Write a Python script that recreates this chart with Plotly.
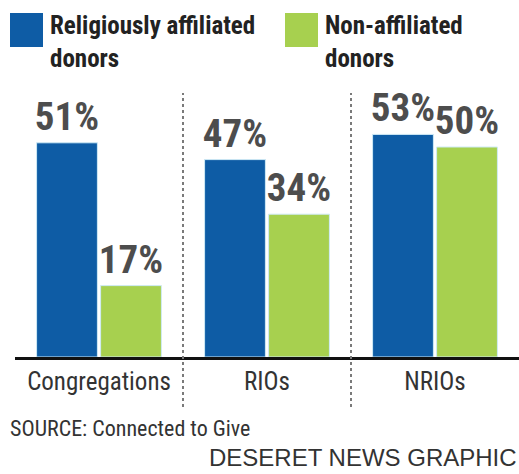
import plotly.graph_objects as go

categories = ["Congregations", "RIOs", "NRIOs"]
series_names = ["Religiously affiliated<br>donors", "Non-affiliated<br>donors"]
religious = [51, 47, 53]
non_affiliated = [17, 34, 50]
source_text = "SOURCE: Connected to Give"
credit_text = "DESERET NEWS GRAPHIC"

BLUE = "#0e5ca5"
GREEN = "#a7d04f"
NARROW = "Roboto Condensed, DejaVu Sans Condensed, sans-serif"

W, H = 519, 474
ML, MR, MT, MB = 15, 0, 90, 117
PW, PH = W - ML - MR, H - MT - MB

def px(x):
    return (x - ML) / PW

def py(y):
    return (H - MB - y) / PH

fig = go.Figure()
for name, vals, col in [(series_names[0], religious, BLUE), (series_names[1], non_affiliated, GREEN)]:
    fig.add_trace(go.Bar(
        x=categories, y=vals, name=name.replace("<br>", " "),
        marker=dict(color=col, line=dict(color="#cfeaf6", width=1)),
        texttemplate="%{y}%", textposition="outside",
        textfont=dict(family=NARROW, size=39, color="#4d4d4d", weight="bold"),
        constraintext="none", cliponaxis=False,
    ))

shapes = []
for xv in [0.5, 1.5]:
    shapes.append(dict(type="line", xref="x", yref="paper", x0=xv, x1=xv,
                       y0=py(407), y1=py(93), line=dict(color="#7a7a7a", width=2, dash="dot")))
shapes.append(dict(type="rect", xref="paper", yref="paper", x0=px(10), x1=px(43),
                   y0=py(47), y1=py(13), fillcolor=BLUE, line=dict(width=0)))
shapes.append(dict(type="rect", xref="paper", yref="paper", x0=px(285), x1=px(318),
                   y0=py(47), y1=py(13), fillcolor=GREEN, line=dict(width=0)))

annotations = [
    dict(text=series_names[0], xref="paper", yref="paper", x=px(48), y=py(9),
         xanchor="left", yanchor="top", align="left", showarrow=False,
         font=dict(family=NARROW, size=25, color="#222", weight="bold")),
    dict(text=series_names[1], xref="paper", yref="paper", x=px(323), y=py(9),
         xanchor="left", yanchor="top", align="left", showarrow=False,
         font=dict(family=NARROW, size=25, color="#222", weight="bold")),
    dict(text=source_text, xref="paper", yref="paper", x=px(8), y=py(414),
         xanchor="left", yanchor="top", showarrow=False,
         font=dict(family=NARROW, size=22, color="#333")),
    dict(text=credit_text, xref="paper", yref="paper", x=1.0, y=py(473),
         xanchor="right", yanchor="bottom", showarrow=False,
         font=dict(family="Liberation Sans, Arial, sans-serif", size=24, color="#333")),
]

fig.update_layout(
    width=W, height=H,
    margin=dict(l=ML, r=MR, t=MT, b=MB, pad=0),
    paper_bgcolor="white", plot_bgcolor="white",
    barmode="group", bargap=0.238, bargroupgap=0.05,
    showlegend=False,
    shapes=shapes, annotations=annotations,
    xaxis=dict(showline=True, linecolor="#111", linewidth=3, ticks="",
               tickfont=dict(family=NARROW, size=25, color="#333"),
               showgrid=False, fixedrange=True),
    yaxis=dict(range=[0, PH / 4.2], visible=False, showgrid=False, fixedrange=True),
)

fig.write_html("out.html")
